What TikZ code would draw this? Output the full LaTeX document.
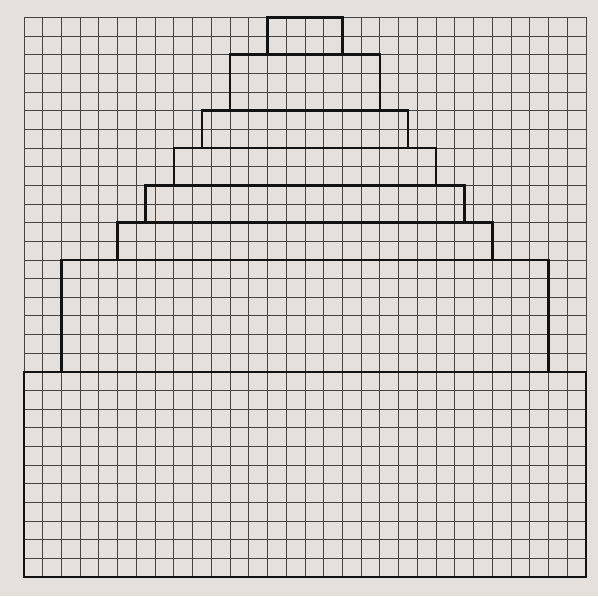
\documentclass[tikz,border=0pt]{standalone}
\definecolor{paper}{RGB}{229,224,219}
\definecolor{gridgray}{RGB}{70,68,66}
\definecolor{ink}{RGB}{20,18,16}
\tikzset{
  gridline/.style={draw=gridgray, line width=0.9pt},
  layer/.style={draw=ink, line width=2.6pt, line join=miter},
}
\begin{document}
\begin{tikzpicture}[x=18.73pt, y=18.65pt]
  \fill[paper] (-1.281,-1.019) rectangle (30.641,30.938);
  \useasboundingbox (-1.281,-1.019) rectangle (30.641,30.938);
  % grid
  \draw[gridline] (0,0) grid[step=1] (30,30);
  % stacked layers of the stepped pyramid
  \draw[layer] (0,0) rectangle (30,11);
  \draw[layer] (2,11) rectangle (28,17);
  \draw[layer] (5,17) rectangle (25,19);
  \draw[layer] (6.5,19) rectangle (23.5,21);
  \draw[layer] (8,21) rectangle (22,23);
  \draw[layer] (9.5,23) rectangle (20.5,25);
  \draw[layer] (11,25) rectangle (19,28);
  \draw[layer] (13,28) rectangle (17,30);
\end{tikzpicture}
\end{document}
